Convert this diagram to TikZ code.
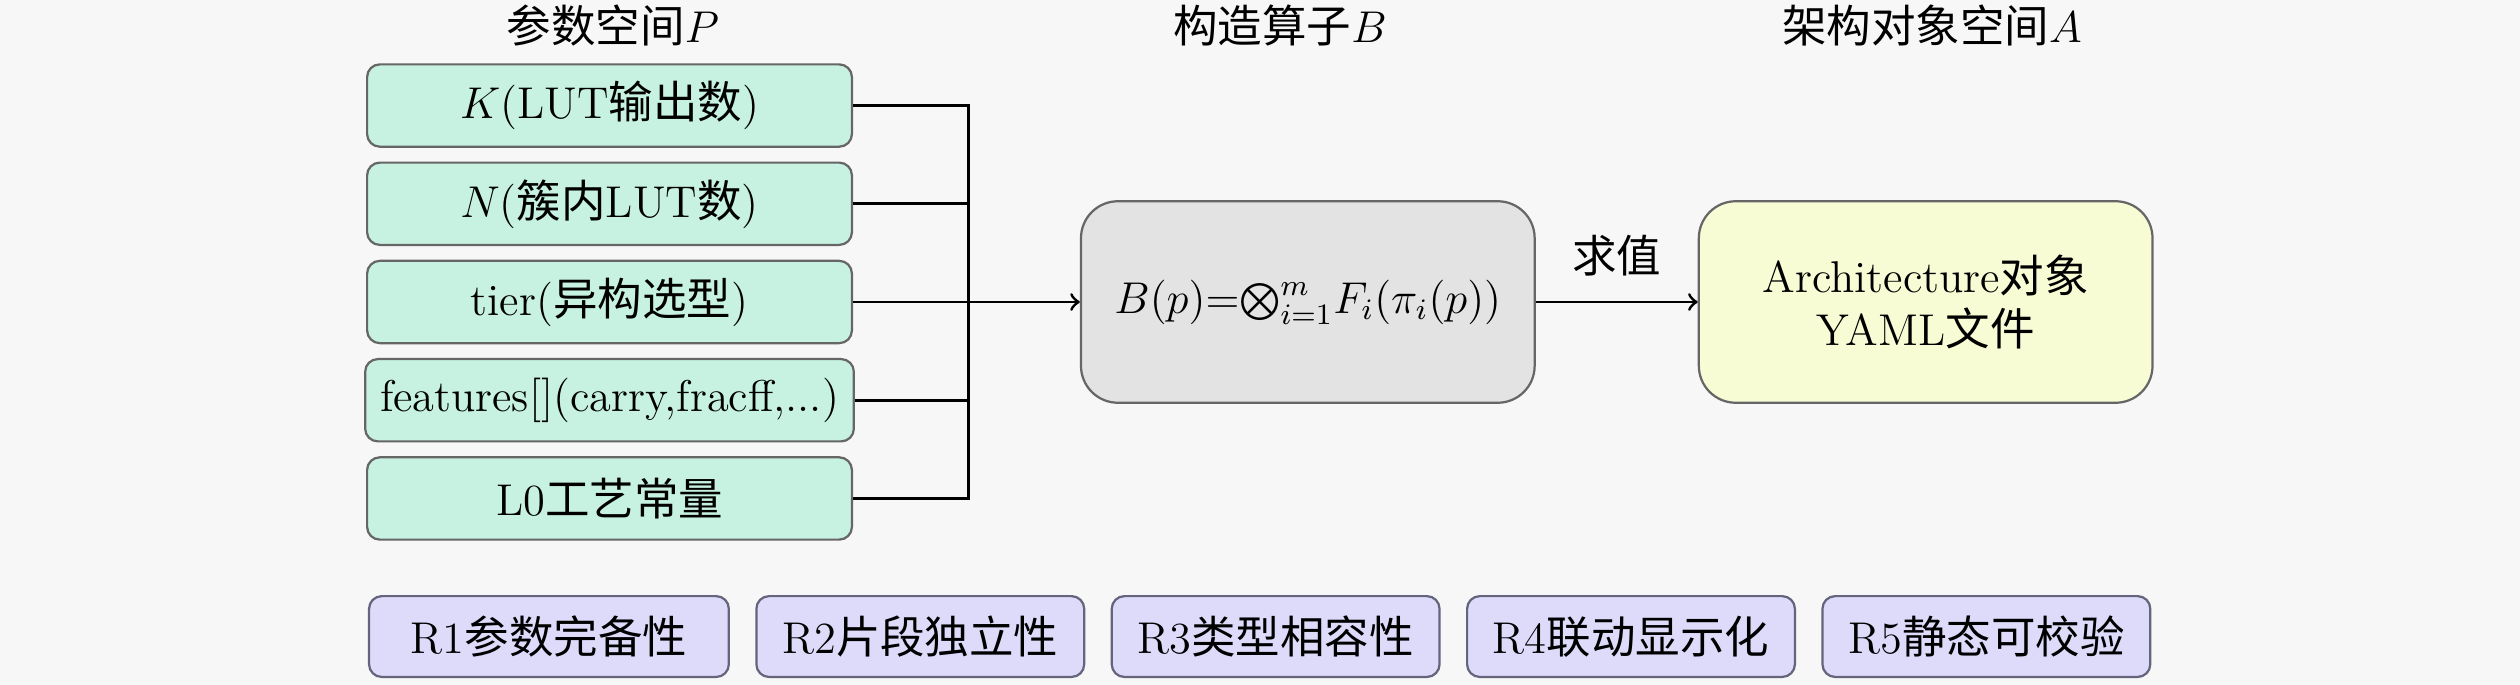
\documentclass[tikz,border=0pt,12pt]{standalone}
\usepackage{fontspec}
\newfontfamily\cjk{Noto Sans CJK SC}
\newcommand{\zh}[1]{{\cjk #1}}
\usetikzlibrary{positioning}
\definecolor{bgcol}{RGB}{247,247,247}
\definecolor{parfill}{RGB}{199,242,226}
\definecolor{opfill}{RGB}{227,227,227}
\definecolor{objfill}{RGB}{248,252,212}
\definecolor{reqfill}{RGB}{222,219,250}
\definecolor{reqdraw}{RGB}{100,100,125}

\begin{document}
\begin{tikzpicture}[
  every node/.style={align=center},
  box/.style={draw=black!60, line width=0.6pt, rounded corners=0.12cm},
  param/.style={box, fill=parfill, minimum width=4.595cm, minimum height=0.78cm},
  bigbox/.style={draw=black!60, line width=0.6pt, rounded corners=0.35cm,
    minimum width=4.30cm, minimum height=1.91cm},
  req/.style={box, draw=reqdraw, fill=reqfill, minimum width=3.107cm, minimum height=0.766cm},
  conn/.style={line width=0.8pt}]
  \useasboundingbox[fill=bgcol] (0,0) rectangle (23.885,-6.492);

  % titles
  \node (tp) at (5.810,-0.246) {\zh{参数空间}$P$};
  \node (tb) at (12.132,-0.246) {\zh{构造算子}$B$};
  \node (ta) at (18.311,-0.246) {\zh{架构对象空间}$A$};

  % parameter space
  \node[param] (k) at (5.777,-1.000) {$K$(LUT\zh{输出数})};
  \node[param, below=0.13cm of k] (n) {$N$(\zh{簇内}LUT\zh{数})};
  \node[param, below=0.13cm of n] (tier) {tier(\zh{异构选型})};
  \node[param, below=0.13cm of tier] (feat) {features[](carry,fracff,...)};
  \node[param, below=0.13cm of feat] (lz) {L0\zh{工艺常量}};

  \coordinate[right=1.09cm of tier.east] (bus);
  \node[bigbox, fill=opfill, right=1.06cm of bus] (op)
    {$B(p){=}{\bigotimes_{i=1}^{m}}F_i(\pi_i(p))$};
  \node[bigbox, fill=objfill, right=1.535cm of op] (obj)
    {Architecture\zh{对象}\\YAML\zh{文件}};

  \draw[conn] (k.east) -| (lz.east -| bus) -- (lz.east);
  \foreach \p in {n,tier,feat}
    \draw[conn] (\p.east) -- (\p.east -| bus);
  \draw[conn,->] (bus) -- (op);
  \draw[conn,->] (op) -- node[above=0.09cm] {\zh{求值}} (obj);

  % requirements
  \node[req, minimum width=3.41cm] (r1) at (5.203,-6.033) {R1\zh{参数完备性}};
  \node[req, right=0.24cm of r1] (r2) {R2\zh{片段独立性}};
  \node[req, right=0.24cm of r2] (r3) {R3\zh{类型相容性}};
  \node[req, right=0.24cm of r3] (r4) {R4\zh{联动显示化}};
  \node[req, right=0.24cm of r4] (r5) {R5\zh{静态可校验}};
\end{tikzpicture}
\end{document}
